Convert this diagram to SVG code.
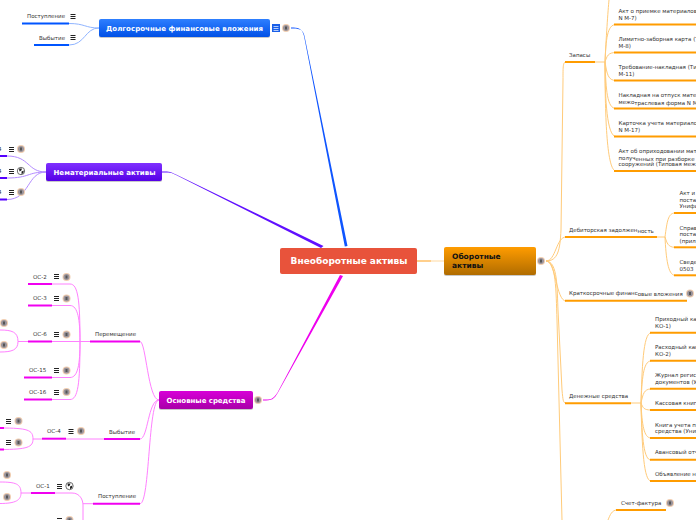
<svg xmlns="http://www.w3.org/2000/svg" width="696" height="520" viewBox="0 0 696 520">
<style>
text{font-family:"DejaVu Sans",sans-serif;font-size:5.5px;fill:#333}
.t{font-weight:bold;font-size:7px;fill:#fff}
.thin{fill:none;stroke-width:1}
.o{stroke:#FFCB7A}.m{stroke:#FF80FF}.b{stroke:#8FB4FF}.p{stroke:#B48CFF}
.uo,.um,.ub,.up{fill:none;stroke-width:2}
.uo{stroke:#FF9C00}.um{stroke:#F000F0}.ub{stroke:#0055FF}.up{stroke:#5500FF}
.sh{fill:#888;opacity:.45}
</style>
<defs>
<linearGradient id="gb" x1="0" y1="0" x2="0" y2="1"><stop offset="0" stop-color="#2E7FFF"/><stop offset="1" stop-color="#0050E6"/></linearGradient>
<linearGradient id="gp" x1="0" y1="0" x2="0" y2="1"><stop offset="0" stop-color="#7F30FF"/><stop offset="1" stop-color="#5500E6"/></linearGradient>
<linearGradient id="gm" x1="0" y1="0" x2="0" y2="1"><stop offset="0" stop-color="#D800D8"/><stop offset="1" stop-color="#A800A8"/></linearGradient>
<linearGradient id="go" x1="0" y1="0" x2="0" y2="1"><stop offset="0" stop-color="#FF9C00"/><stop offset="1" stop-color="#B06C00"/></linearGradient>
<g id="menu"><path d="M-2.500-2h5M-2.500 0h5M-2.500 2h5" stroke="#222" stroke-width="1" fill="none"/></g>
<g id="person"><circle r="4" fill="#F0CDB0"/><circle r="3" fill="#9A949C"/><path d="M-1-1.500h2v3h-2z" fill="#555"/></g>
<g id="globe"><circle r="3.700" fill="#fff" stroke="#333" stroke-width=".7"/><path d="M-2-2.400L1-2.600 .3-.6-1.500.4zM.5.5L2.800-.6 2.400 2 .6 3.200z" fill="#222"/></g>
</defs>

<g id="connectors">
<path d="M291 27.500C298 27.500 302 28 304 36L344.800 246.500L347.500 246L304.500 36C303 28.500 298 28.500 291 28.500Z" fill="#0F55FF"/>
<path d="M162 172.500C170 172.500 171 172.500 176 175L321 248L323.500 246L176 174.500C171 172 170 171.500 162 171.500Z" fill="#6010FF"/>
<path d="M263 400.500C272 400.500 274 399.500 278 392.500L343 276L340 275L277.500 392.500C273 399.500 271 399.500 263 399.500Z" fill="#EE00EE"/>
<path d="M417 261H431" stroke="#FFB040" stroke-width="1.200" fill="none"/><path d="M431 261H444" stroke="#FFD9A0" stroke-width="1" fill="none"/>
<path class="thin o" d="M546 261C558 261 560 250 561 230L563 80C563 66 563 62 566 62"/>
<path class="thin o" d="M546 261C556 261 556 237 566 237"/>
<path class="thin o" d="M546 261C556 261 556 301 566 301"/>
<path class="thin o" d="M546 261C558 261 557 290 558 310L562 390C563 400 563 403 566 403"/>
<path class="thin o" d="M546 261C556 261 556 290 557 320L562 520"/>
<path class="thin o" d="M595 62H605"/>
<path class="thin o" d="M605 62C606 40 608 10 609 0"/>
<path class="thin o" d="M605 62C606 40 607 24.500 616 24.500"/>
<path class="thin o" d="M605 62C607 56 608 52.500 616 52.500"/>
<path class="thin o" d="M605 62C607 74 608 80.500 616 80.500"/>
<path class="thin o" d="M605 62C606 90 607 108.500 616 108.500"/>
<path class="thin o" d="M605 62C605 100 607 136.500 616 136.500"/>
<path class="thin o" d="M605 62C605 120 607 171 616 171"/>
<path class="thin o" d="M657 237H665"/>
<path class="thin o" d="M665 237C667 222 668 213 675 213"/>
<path class="thin o" d="M665 237C667 243 668 247.300 675 247.300"/>
<path class="thin o" d="M665 237C666 258 668 275.300 675 275.300"/>
<path class="thin o" d="M631 403H641"/>
<path class="thin o" d="M641 403C642 370 643 333 651 333"/>
<path class="thin o" d="M641 403C642 380 643 361 651 361"/>
<path class="thin o" d="M641 403C643 394 644 389 651 389"/>
<path class="thin o" d="M641 403C643 408 644 410 651 410"/>
<path class="thin o" d="M641 403C642 425 644 438 651 438"/>
<path class="thin o" d="M641 403C642 440 644 460 651 460"/>
<path class="thin o" d="M641 403C642 450 644 481 651 481"/>
<path class="thin o" d="M608 520C610 515 612 510 617 510"/>
<path class="thin b" d="M69 23.500C85 23.500 85 28 99 28"/>
<path class="thin b" d="M69 45C85 45 85 28 99 28"/>
<path class="thin p" d="M7 156C30 156 27 172 46 172"/>
<path class="thin p" d="M7 178C30 178 27 172 46 172"/>
<path class="thin p" d="M7 199.500C30 199.500 27 172 46 172"/>
<path class="thin m" d="M159 400C148 400 146 341.500 140 341.500"/>
<path class="thin m" d="M159 400C148 400 148 439 140 439"/>
<path class="thin m" d="M159 400C148 400 150 503.700 140 503.700"/>
<path class="thin m" d="M90 341.500H52"/>
<path class="thin m" d="M52 284H70C78 284 80 300 80 341.500C80 384 78 399.500 70 399.500H52"/>
<path class="thin m" d="M52 305.500H70C78 305.500 80 320 80 341.500C80 364 78 377.500 70 377.500H52"/>
<path class="thin m" d="M28 341.500H18C18 332 12 330 0 330M18 341.500C18 350 12 352 0 352"/>
<path class="thin m" d="M104 439H66"/>
<path class="thin m" d="M42 439H33C33 430 28 428 0 428M33 439C33 447 28 449.500 0 449.500"/>
<path class="thin m" d="M55 493H72C80 493 83 500 83 505V520M83 503.700H93"/>
<path class="thin m" d="M31 493H21C21 484 16 482 0 482M21 493C21 500 16 503.500 0 503.500"/>
</g>

<g id="root"><rect x="280" y="248" width="137" height="26" rx="2" fill="#E8533B"/><text x="349" y="264" text-anchor="middle" style="font-weight:bold;font-size:9px;fill:#fff">Внеоборотные активы</text></g>

<g id="oborotnye"><rect class="sh" x="444" y="248" width="92" height="28" rx="2"/><rect x="444" y="247" width="92" height="28" rx="2" fill="url(#go)"/><text x="452" y="259" style="font-weight:bold;font-size:7.500px;fill:#111">Оборотные</text><text x="452" y="268" style="font-weight:bold;font-size:7.500px;fill:#111">активы</text><use href="#person" x="541" y="261"/></g>

<g id="dolgosrochnye"><rect class="sh" x="99" y="20" width="171" height="18" rx="2"/><rect x="99" y="19" width="171" height="18" rx="2" fill="url(#gb)"/><text class="t" x="106" y="31" textLength="157">Долгосрочные финансовые вложения</text><rect x="272" y="24" width="8" height="8" fill="#1A5FE8"/><path d="M273.500 26.500h5M273.500 28.500h5M273.500 30.500h5" stroke="#DCE8FF" stroke-width=".8"/><use href="#person" x="286" y="28"/></g>
<g id="d-post"><text x="27" y="18">Поступление</text><path class="ub" d="M22 23.500H69"/><use href="#menu" x="73" y="16.500"/></g>
<g id="d-vyb"><text x="39" y="40">Выбытие</text><path class="ub" d="M34 45H69"/><use href="#menu" x="73" y="37.500"/></g>

<g id="nematerialnye"><rect class="sh" x="46" y="164" width="116" height="18" rx="2"/><rect x="46" y="163" width="116" height="18" rx="2" fill="url(#gp)"/><text class="t" x="53.500" y="175" textLength="102">Нематериальные активы</text></g>
<g id="nma-1"><text x="-2" y="151">4</text><path class="up" d="M0 156H7"/><use href="#menu" x="11.500" y="149.500"/><use href="#person" x="21" y="149"/></g>
<g id="nma-2"><text x="-2" y="173">4</text><path class="up" d="M0 178H7"/><use href="#menu" x="11.500" y="171.500"/><use href="#globe" x="21" y="171"/></g>
<g id="nma-3"><text x="-2" y="194">4</text><path class="up" d="M0 199.500H7"/><use href="#menu" x="11.500" y="192.500"/><use href="#person" x="21" y="192"/></g>

<g id="osnovnye"><rect class="sh" x="159" y="392" width="94" height="18" rx="2"/><rect x="159" y="391" width="94" height="18" rx="2" fill="url(#gm)"/><text class="t" x="166.500" y="403" textLength="79">Основные средства</text><use href="#person" x="258" y="400"/></g>
<g id="perem"><text x="95" y="336">Перемещение</text><path class="um" d="M90 341.500H140"/></g>
<g id="vyb"><text x="109" y="434">Выбытие</text><path class="um" d="M104 439H140"/></g>
<g id="post"><text x="98" y="498">Поступление</text><path class="um" d="M93 503.700H140"/></g>
<g id="os2"><text x="33" y="279">ОС-2</text><path class="um" d="M28 284H52"/><use href="#menu" x="56.500" y="276.500"/><use href="#person" x="66.500" y="277"/></g>
<g id="os3"><text x="33" y="300">ОС-3</text><path class="um" d="M28 305.500H52"/><use href="#menu" x="56.500" y="298.500"/><use href="#person" x="66.500" y="298.500"/></g>
<g id="os6"><text x="33" y="336">ОС-6</text><path class="um" d="M28 341.500H52"/><use href="#menu" x="56.500" y="334.500"/><use href="#person" x="66.500" y="334.500"/></g>
<g id="os6a"><use href="#person" x="4" y="323"/></g>
<g id="os6b"><use href="#person" x="4" y="345"/></g>
<g id="os15"><text x="29" y="372">ОС-15</text><path class="um" d="M24 377.500H52"/><use href="#menu" x="56.500" y="370.500"/><use href="#person" x="66.500" y="370.500"/></g>
<g id="os16"><text x="29" y="394">ОС-16</text><path class="um" d="M24 399.500H52"/><use href="#menu" x="56.500" y="392.500"/><use href="#person" x="66.500" y="392"/></g>
<g id="os4"><text x="47" y="433">ОС-4</text><path class="um" d="M42 438.700H66"/><use href="#menu" x="71" y="431.500"/><use href="#person" x="81" y="431"/></g>
<g id="os4a"><path class="um" d="M0 428H4"/><use href="#menu" x="8.500" y="421.500"/><use href="#person" x="18.500" y="421"/></g>
<g id="os4b"><path class="um" d="M0 449.500H4"/><use href="#menu" x="8.500" y="442.500"/><use href="#person" x="18.500" y="442.500"/></g>
<g id="os1"><text x="36" y="488">ОС-1</text><path class="um" d="M31 493H55"/><use href="#menu" x="59.500" y="486.500"/><use href="#globe" x="69.500" y="486"/></g>
<g id="os1a"><use href="#person" x="7" y="475"/></g>
<g id="os1b"><use href="#person" x="7" y="497"/></g>
<g id="os-bottom"><use href="#menu" x="59.500" y="520.500"/><use href="#person" x="69.500" y="520"/></g>

<g id="zapasy"><text x="569" y="57">Запасы</text><path class="uo" d="M565 62H595"/></g>
<g id="z1"><text x="618.500" y="13">Акт о приемке материалов</text><text x="618.500" y="19.500">N М-7)</text><path class="uo" d="M614 24.500H696"/></g>
<g id="z2"><text x="618.500" y="41">Лимитно-заборная карта (Т</text><text x="618.500" y="47.500">М-8)</text><path class="uo" d="M614 52.500H696"/></g>
<g id="z3"><text x="618.500" y="69">Требование-накладная (Ти</text><text x="618.500" y="75.500">М-11)</text><path class="uo" d="M614 80.500H696"/></g>
<g id="z4"><text x="618.500" y="97">Накладная на отпуск матер</text><text x="618.500" y="103.500">межо<tspan dy="1">траслевая форма N М</tspan></text><path class="uo" d="M614 108.500H696"/></g>
<g id="z5"><text x="618.500" y="125">Карточка учета материалов</text><text x="618.500" y="131.500">N М-17)</text><path class="uo" d="M614 136.500H696"/></g>
<g id="z6"><text x="618.500" y="153">Акт об оприходовании мат</text><text x="618.500" y="159.500">получ<tspan dy="1">енных при разборке</tspan></text><text x="618.500" y="166">сооружений (Типовая меж</text><path class="uo" d="M614 171H696"/></g>

<g id="debitor"><text x="569" y="232">Дебиторская задолжен<tspan dy="1">ность</tspan></text><path class="uo" d="M565 237H657"/></g>
<g id="d1"><text x="679.500" y="195">Акт и</text><text x="679.500" y="201.500">постав</text><text x="679.500" y="208">Унифи</text><path class="uo" d="M674 213H696"/></g>
<g id="d2"><text x="679.500" y="230">Справ</text><text x="679.500" y="236">постав</text><text x="679.500" y="243">(прил</text><path class="uo" d="M674 247.300H696"/></g>
<g id="d3"><text x="679.500" y="264">Сведе</text><text x="679.500" y="270.500">0503</text><path class="uo" d="M674 275.300H696"/></g>

<g id="kratko"><text x="569" y="295">Краткосрочные финанс<tspan dy="1">овые вложения</tspan></text><path class="uo" d="M565 300.700H687"/><use href="#person" x="690" y="293.500"/></g>

<g id="denezhnye"><text x="569" y="398">Денежные средства</text><path class="uo" d="M565 403.300H631"/></g>
<g id="c1"><text x="655" y="321">Приходный ка</text><text x="655" y="327.500">КО-1)</text><path class="uo" d="M650 332.700H696"/></g>
<g id="c2"><text x="655" y="349">Расходный кас</text><text x="655" y="356">КО-2)</text><path class="uo" d="M650 360.700H696"/></g>
<g id="c3"><text x="655" y="377">Журнал регист</text><text x="655" y="384">документов (У</text><path class="uo" d="M650 388.700H696"/></g>
<g id="c4"><text x="655" y="405">Кассовая книг</text><path class="uo" d="M650 410H696"/></g>
<g id="c5"><text x="655" y="427">Книга учета пр</text><text x="655" y="433">средства (Униф</text><path class="uo" d="M650 438H696"/></g>
<g id="c6"><text x="655" y="454">Авансовый отч</text><path class="uo" d="M650 459.700H696"/></g>
<g id="c7"><text x="655" y="476">Объявление н</text><path class="uo" d="M650 481H696"/></g>
<g id="schet"><text x="621" y="505">Счет-фактура</text><path class="uo" d="M616 510H666"/><use href="#person" x="670" y="503"/></g>
</svg>
